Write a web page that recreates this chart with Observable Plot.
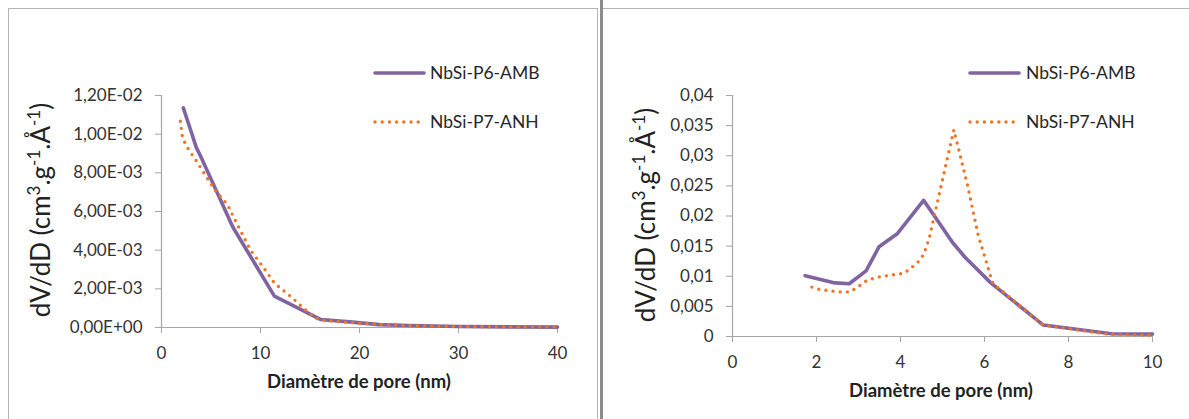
<!DOCTYPE html>
<html><head><meta charset="utf-8">
<script src="https://cdn.jsdelivr.net/npm/d3@7"></script>
<script src="https://cdn.jsdelivr.net/npm/@observablehq/plot@0.6"></script>
<style>
body{margin:0;background:#fff;}
#root{position:relative;width:1189px;height:419px;overflow:hidden;background:#fff;font-family:Lato,"Open Sans",sans-serif;}
.plotbox{position:absolute;top:0;}
.plotbox svg{display:block;overflow:visible;}
.plotbox g[aria-label$="tick"] path{stroke:#a6a6a6;}
.legend{position:absolute;font-family:Lato,sans-serif;font-size:17.5px;color:#262626;}
.legend .row{position:absolute;white-space:nowrap;height:0;}
.legend .row svg{position:absolute;left:0;top:-6px;}
.legend .row span{position:absolute;top:-11px;line-height:22px;}
.frame{position:absolute;}
</style></head><body><div id="root"></div>
<script>
// ---- shared ----
const seriesNames = ["NbSi-P6-AMB", "NbSi-P7-ANH"];
const seriesColors = ["#8064A2", "#F07421"];
const xTitle = "Diamètre de pore (nm)";

// ---- left panel (0–40 nm) ----
const leftXTicks = [0, 10, 20, 30, 40];
const leftYTicks = [0, 0.002, 0.004, 0.006, 0.008, 0.010, 0.012];
const leftP6x = [2.2, 2.9, 3.5, 4.0, 7.2, 11.4, 16.1, 19, 22, 25, 30, 35, 40];
const leftP6y = [0.01136, 0.01028, 0.00933, 0.00881, 0.0052, 0.00162, 0.00041, 0.00029, 0.00015, 0.0001, 0.00005, 0.00003, 0.00002];
const leftP7x = [1.9, 2.1, 2.4, 2.8, 3.6, 5.3, 6.7, 7.7, 9.0, 10.5, 11.4, 13.1, 14.4, 15.4, 16.1, 19, 22, 25, 30, 35, 40];
const leftP7y = [0.01067, 0.0099, 0.0095, 0.00916, 0.00855, 0.00718, 0.00632, 0.00528, 0.0040, 0.00296, 0.0023, 0.00158, 0.00098, 0.00052, 0.00038, 0.00026, 0.00016, 0.0001, 0.00005, 0.00003, 0.00002];

// ---- right panel (0–10 nm) ----
const rightXTicks = [0, 2, 4, 6, 8, 10];
const rightYTicks = [0, 0.005, 0.01, 0.015, 0.02, 0.025, 0.03, 0.035, 0.04];
const rightP6x = [1.73, 2.44, 2.78, 3.18, 3.49, 3.93, 4.55, 5.24, 5.53, 6.15, 7.4, 9.02, 10];
const rightP6y = [0.0101, 0.0089, 0.00875, 0.0109, 0.0149, 0.0171, 0.0226, 0.0156, 0.0132, 0.0089, 0.0019, 0.00045, 0.0004];
const rightP7x = [1.89, 2.07, 2.55, 2.8, 3.06, 3.22, 3.5, 4.09, 4.4, 4.55, 4.68, 5.27, 5.6, 5.85, 6.2, 7.4, 9.02, 10];
const rightP7y = [0.0082, 0.0078, 0.0074, 0.0074, 0.0086, 0.0094, 0.0099, 0.0105, 0.0122, 0.0136, 0.0162, 0.0343, 0.0250, 0.0168, 0.0088, 0.0019, 0.0003, 0.0002];

const toRows = (xs, ys) => xs.map((x, i) => ({x, y: ys[i]}));

function sciFmt(d) {
  const [m, e] = d.toExponential(2).split("e");
  const n = +e;
  return m.replace(".", ",") + "E" + (n < 0 ? "-" : "+") + String(Math.abs(n)).padStart(2, "0");
}
const decFmt = d => String(d).replace(".", ",");

const root = document.getElementById("root");

function addFrame(css) {
  const d = document.createElement("div");
  d.className = "frame";
  Object.assign(d.style, css);
  root.appendChild(d);
}
addFrame({left: "8px", top: "8px", width: "588px", height: "430px", border: "1px solid #b4b4b4"});
addFrame({left: "603px", top: "8px", width: "600px", height: "0px", borderTop: "1px solid #b4b4b4"});
addFrame({left: "600px", top: "0px", width: "3px", height: "419px", background: "#8c8c8c"});

function panel(cfg) {
  const p = Plot.plot({
    width: cfg.width, height: 419,
    marginLeft: cfg.ml, marginRight: cfg.mr, marginTop: 95, marginBottom: cfg.mb,
    style: {fontFamily: "Lato, sans-serif", fontSize: "17px", color: "#333", background: "transparent", overflow: "visible"},
    x: {domain: cfg.xDomain, ticks: cfg.xTicks, tickFormat: d => String(d), label: null, tickSize: 6, tickPadding: 13},
    y: {domain: cfg.yDomain, ticks: cfg.yTicks, tickFormat: cfg.yFmt, label: null, tickSize: 6, tickPadding: 13},
    marks: [
      Plot.ruleY([0], {stroke: "#a6a6a6", strokeWidth: 1.2}),
      Plot.ruleX([0], {stroke: "#a6a6a6", strokeWidth: 1.2}),
      Plot.line(toRows(cfg.p6x, cfg.p6y), {x: "x", y: "y", stroke: seriesColors[0], strokeWidth: 3.6, strokeLinejoin: "round"}),
      Plot.line(toRows(cfg.p7x, cfg.p7y), {x: "x", y: "y", stroke: seriesColors[1], strokeWidth: 3.4, strokeDasharray: "0 7.2", strokeLinecap: "round"})
    ]
  });
  const box = document.createElement("div");
  box.className = "plotbox";
  box.style.left = cfg.left + "px";
  box.appendChild(p);
  root.appendChild(box);
  const svg = d3.select(p);
  // y-axis title
  const t = svg.append("text")
    .attr("transform", `translate(${cfg.ytX},${cfg.ytY}) rotate(-90)`)
    .attr("text-anchor", "middle")
    .attr("font-family", "Lato, sans-serif")
    .attr("font-size", 26)
    .attr("fill", "#222");
  const parts = [["dV/dD (cm", 0], ["3", 1], [".g", 0], ["-1", 1], [".Å", 0], ["-1", 1], [")", 0]];
  parts.forEach(([s, sup]) => {
    const ts = t.append("tspan").text(s);
    if (sup) ts.attr("baseline-shift", "super").attr("font-size", 17);
  });
  // x-axis title
  svg.append("text")
    .attr("x", cfg.xtX).attr("y", cfg.xtY)
    .attr("text-anchor", "middle")
    .attr("dominant-baseline", "central")
    .attr("font-family", "Lato, sans-serif")
    .attr("font-weight", "bold")
    .attr("font-size", 18.5)
    .attr("fill", "#222")
    .text(xTitle);
  // legend
  const lg = document.createElement("div");
  lg.className = "legend";
  lg.style.left = cfg.lgX + "px";
  lg.style.top = "0px";
  seriesNames.forEach((name, i) => {
    const row = document.createElement("div");
    row.className = "row";
    row.style.top = (73 + i * 49) + "px";
    const sw = i === 0
      ? `<svg width="56" height="12"><line x1="2" y1="6" x2="51" y2="6" stroke="${seriesColors[0]}" stroke-width="3.6" stroke-linecap="round"/></svg>`
      : `<svg width="56" height="12"><line x1="2" y1="6" x2="49" y2="6" stroke="${seriesColors[1]}" stroke-width="3.4" stroke-dasharray="0 7.2" stroke-linecap="round"/></svg>`;
    row.innerHTML = sw + `<span style="left:${cfg.lgT}px">${name}</span>`;
    lg.appendChild(row);
  });
  root.appendChild(lg);
}

panel({left: 0, width: 600, ml: 161, mr: 43, mb: 92, xDomain: [0, 40], yDomain: [0, 0.012],
  xTicks: leftXTicks, yTicks: leftYTicks, yFmt: sciFmt,
  p6x: leftP6x, p6y: leftP6y, p7x: leftP7x, p7y: leftP7y,
  ytX: 50, ytY: 210, xtX: 359, xtY: 381, lgX: 373, lgT: 57});

panel({left: 600, width: 589, ml: 132, mr: 37, mb: 83, xDomain: [0, 10], yDomain: [0, 0.04],
  xTicks: rightXTicks, yTicks: rightYTicks, yFmt: decFmt,
  p6x: rightP6x, p6y: rightP6y, p7x: rightP7x, p7y: rightP7y,
  ytX: 55, ytY: 215, xtX: 341, xtY: 390, lgX: 968, lgT: 58});
</script></body></html>
